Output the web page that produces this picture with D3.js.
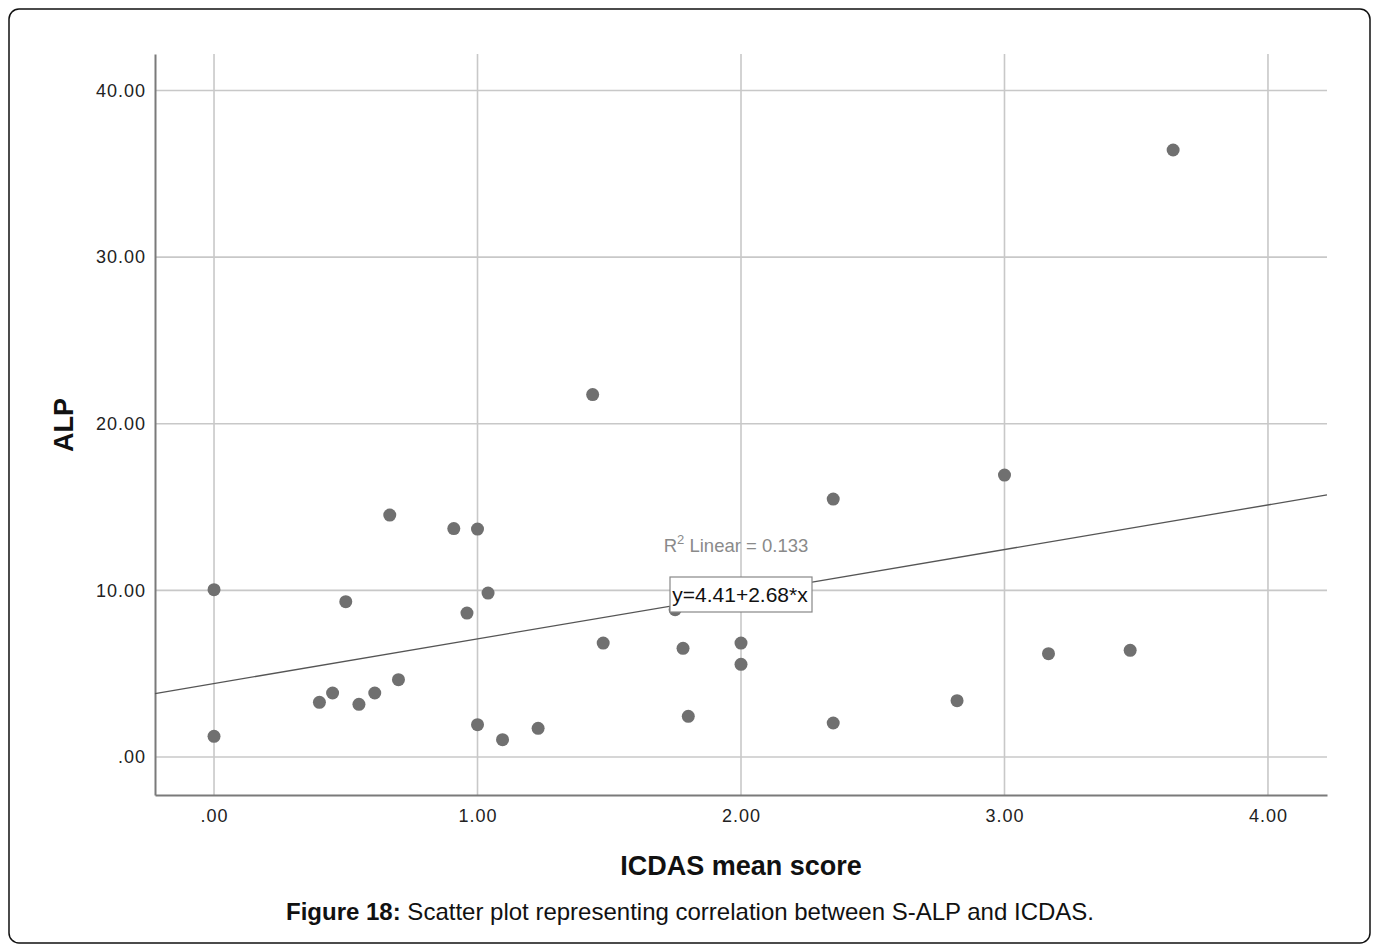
<!DOCTYPE html>
<html>
<head>
<meta charset="utf-8">
<script src="https://cdn.jsdelivr.net/npm/d3@7"></script>
<style>
  body { margin: 0; background: #fff; }
  text { font-family: "Liberation Sans", Arial, sans-serif; }
</style>
</head>
<body>
<div id="app"></div>
<script>
// ICDAS mean score (x) vs ALP (y)
var icdas = [0, 0, 0.667, 0.5, 0.4, 0.45, 0.55, 0.61, 0.7, 0.91, 1.0, 1.04, 0.96, 1.0, 1.095,
             1.437, 1.23, 1.477, 1.75, 1.78, 1.80, 2.0, 2.0,
             2.35, 2.35, 3.0, 2.82, 3.167, 3.477, 3.64];
var alp   = [10.04, 1.24, 14.52, 9.32, 3.28, 3.84, 3.16, 3.84, 4.64, 13.71, 13.68, 9.84, 8.64, 1.94, 1.04,
             21.75, 1.72, 6.84, 8.84, 6.52, 2.44, 6.84, 5.56,
             15.48, 2.04, 16.92, 3.38, 6.20, 6.40, 36.43];
var xTicks = [0, 1, 2, 3, 4];
var yTicks = [0, 10, 20, 30, 40];
var fitA = 4.41, fitB = 2.68, rSquared = 0.133;

var W = 1376, H = 948;
var plotL = 155, plotR = 1327, plotT = 54, plotB = 795;

var svg = d3.select('#app')
  .append('svg')
    .attr('width', W)
    .attr('height', H);

// outer frame
svg.append('rect')
    .attr('x', 9).attr('y', 9)
    .attr('width', 1361).attr('height', 934)
    .attr('rx', 10)
    .attr('fill', 'none')
    .attr('stroke', '#111')
    .attr('stroke-width', 1.5);

var x = d3.scaleLinear().domain([-0.224, 4.224]).range([plotL, plotR]);
var y = d3.scaleLinear().domain([-2.28, 42.19]).range([plotB, plotT]);

var fmt = function(v){ return v === 0 ? '.00' : d3.format('.2f')(v); };

// grid
var grid = svg.append('g').attr('class', 'grid');
grid.selectAll('line.h')
    .data(yTicks)
  .enter().append('line')
    .attr('class', 'h')
    .attr('x1', plotL).attr('x2', plotR)
    .attr('y1', function(d){ return y(d); })
    .attr('y2', function(d){ return y(d); })
    .attr('stroke', '#c8c8c8').attr('stroke-width', 1.6);
grid.selectAll('line.v')
    .data(xTicks)
  .enter().append('line')
    .attr('class', 'v')
    .attr('y1', plotT).attr('y2', plotB)
    .attr('x1', function(d){ return x(d); })
    .attr('x2', function(d){ return x(d); })
    .attr('stroke', '#c8c8c8').attr('stroke-width', 1.6);

// axes
var xAxis = svg.append('g')
    .attr('transform', 'translate(0,' + plotB + ')')
    .call(d3.axisBottom(x).tickValues(xTicks).tickFormat(fmt).tickSize(0).tickPadding(14));
var yAxis = svg.append('g')
    .attr('transform', 'translate(' + plotL + ',0)')
    .call(d3.axisLeft(y).tickValues(yTicks).tickFormat(fmt).tickSize(0).tickPadding(9));

[xAxis, yAxis].forEach(function(a){
  a.select('.domain').attr('stroke', '#7a7a7a').attr('stroke-width', 2);
  a.selectAll('text')
    .attr('fill', '#222')
    .style('font-family', '"Liberation Sans", Arial, sans-serif')
    .style('font-size', '18px')
    .style('letter-spacing', '1px');
});

// fit line
var line = d3.line()
    .x(function(d){ return x(d); })
    .y(function(d){ return y(fitA + fitB * d); });
svg.append('path')
    .datum(x.domain())
    .attr('d', line)
    .attr('fill', 'none')
    .attr('stroke', '#555')
    .attr('stroke-width', 1.3);

// points
svg.append('g')
    .selectAll('circle')
    .data(icdas)
  .enter().append('circle')
    .attr('cx', function(d){ return x(d); })
    .attr('cy', function(d, i){ return y(alp[i]); })
    .attr('r', 6.5)
    .attr('fill', '#707070');

// R2 label
var r2 = svg.append('text')
    .attr('x', 736).attr('y', 552)
    .attr('text-anchor', 'middle')
    .attr('fill', '#8a8a8a')
    .style('font-size', '18.5px');
r2.append('tspan').text('R');
r2.append('tspan').attr('dy', -8).style('font-size', '13px').text('2');
r2.append('tspan').attr('dy', 8).text(' Linear = ' + rSquared);

// equation box
svg.append('rect')
    .attr('x', 670).attr('y', 577)
    .attr('width', 142).attr('height', 35)
    .attr('fill', '#fff')
    .attr('stroke', '#888')
    .attr('stroke-width', 1.2);
svg.append('text')
    .attr('x', 740).attr('y', 602)
    .attr('text-anchor', 'middle')
    .attr('fill', '#111')
    .style('font-size', '21px')
    .text('y=' + fitA + '+' + fitB + '*x');

// axis titles
svg.append('text')
    .attr('x', 741).attr('y', 875)
    .attr('text-anchor', 'middle')
    .attr('fill', '#111')
    .style('font-size', '27px')
    .style('font-weight', 'bold')
    .text('ICDAS mean score');
svg.append('text')
    .attr('transform', 'translate(73,425) rotate(-90)')
    .attr('text-anchor', 'middle')
    .attr('fill', '#111')
    .style('font-size', '27px')
    .style('font-weight', 'bold')
    .text('ALP');

// caption
var cap = svg.append('text')
    .attr('x', 690).attr('y', 920)
    .attr('text-anchor', 'middle')
    .attr('fill', '#111')
    .style('font-size', '24px');
cap.append('tspan').style('font-weight', 'bold').text('Figure 18:');
cap.append('tspan').text(' Scatter plot representing correlation between S-ALP and ICDAS.');
</script>
</body>
</html>
